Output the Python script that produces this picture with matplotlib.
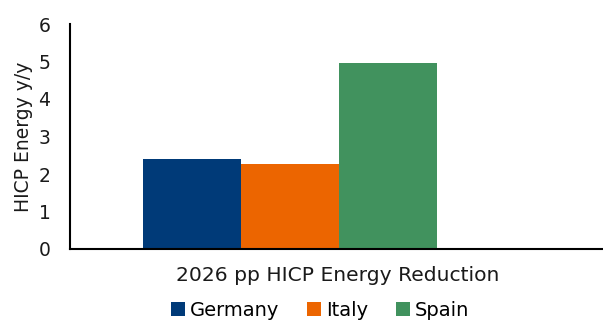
import matplotlib.pyplot as plt
import numpy as np

countries = ["Germany", "Italy", "Spain"]
values = [2.4, 2.27, 4.96]
colors = ["#003a78", "#ec6500", "#41925e"]
category = "2026 pp HICP Energy Reduction"
yticks = [0, 1, 2, 3, 4, 5, 6]

plt.rcParams['font.family'] = ['DejaVu Sans']
fs = 13.5
txt = "#1a1a1a"

fig = plt.figure(figsize=(6.03, 3.2), dpi=100)
ax = fig.add_axes([70/603, 1 - 249/320, 533/603, 225/320])

pos = np.arange(len(countries)) - 1
for p, v, c, name in zip(pos, values, colors, countries):
    ax.bar(p, v, width=1.0, color=c, label=name)

ax.set_xlim(-2.245, 3.19)
ax.set_ylim(0, 6)
ax.set_yticks(yticks)
ax.set_xticks([0.48])
ax.set_xticklabels([category])
ax.tick_params(axis='x', length=0, labelsize=14.6, colors=txt, pad=12)
ax.tick_params(axis='y', length=0, labelsize=fs, colors=txt, pad=14)
ax.set_ylabel("HICP Energy y/y", fontsize=fs, color=txt, labelpad=4)

for s in ["top", "right"]:
    ax.spines[s].set_visible(False)
ax.spines["left"].set_linewidth(1.5)
ax.spines["bottom"].set_linewidth(1.5)

fig.legend(loc="center", bbox_to_anchor=(320/603, 1 - 310/320), ncol=3, frameon=False,
           fontsize=14, handlelength=0.75, handleheight=0.75, handletextpad=0.25,
           columnspacing=1.4, borderpad=0)

fig.savefig("out.png", dpi=100)
